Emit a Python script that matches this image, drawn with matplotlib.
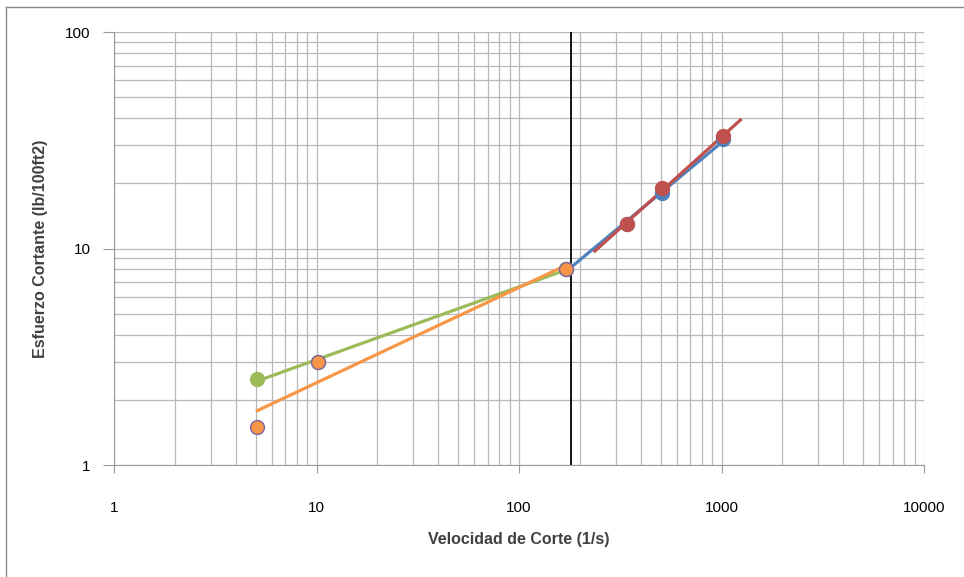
import numpy as np
import matplotlib
matplotlib.use("Agg")
import matplotlib.pyplot as plt
from matplotlib.ticker import LogLocator, NullFormatter, FixedLocator, FixedFormatter

# shear rate (1/s) vs shear stress (lb/100ft2)
blue_x = [170, 340, 510, 1020]
blue_y = [8, 13, 18, 32]
red_x = [340, 510, 1020]
red_y = [13, 19, 33]
green_x = [5.1, 10.2, 170]
green_y = [2.5, 3.0, 8]
orange_x = [5.1, 10.2, 170]
orange_y = [1.5, 3.0, 8]

# extent of each power trendline
blue_range = [170, 1020]
red_range = [237, 1240]
green_range = [5.1, 170]
orange_range = [5.1, 170]

cut_x = 180

x_ticks = [1, 10, 100, 1000, 10000]
x_labels = ["1", "10", "100", "1000", "10000"]
y_ticks = [1, 10, 100]
y_labels = ["1", "10", "100"]

BLUE = "#4F81BD"
RED = "#C0504D"
GREEN = "#9BBB59"
ORANGE = "#F79646"
PURPLE = "#8064A2"

plt.rcParams['font.family'] = ['Liberation Sans', 'DejaVu Sans']


def power_fit(xs, ys, rng):
    k, b = np.polyfit(np.log10(xs), np.log10(ys), 1)
    xx = np.logspace(np.log10(rng[0]), np.log10(rng[1]), 50)
    return xx, 10 ** (b + k * np.log10(xx))


fig = plt.figure(figsize=(9.64, 5.77), dpi=100)
ax = fig.add_axes([0.1183, 0.1941, 0.8402, 0.7504])
ax.set_xscale('log')
ax.set_yscale('log')
ax.set_xlim(1, 10000)
ax.set_ylim(1, 100)

ax.grid(True, which='both', color='#b8b8b8', linewidth=0.9)
ax.set_axisbelow(True)
for s in ax.spines.values():
    s.set_visible(False)
ax.spines['left'].set_visible(True)
ax.spines['bottom'].set_visible(True)
ax.spines['left'].set_color('#9a9a9a')
ax.spines['bottom'].set_color('#9a9a9a')

ax.xaxis.set_major_locator(FixedLocator(x_ticks))
ax.xaxis.set_major_formatter(FixedFormatter(x_labels))
ax.yaxis.set_major_locator(FixedLocator(y_ticks))
ax.yaxis.set_major_formatter(FixedFormatter(y_labels))
ax.xaxis.set_minor_locator(LogLocator(base=10, subs=np.arange(2, 10)))
ax.yaxis.set_minor_locator(LogLocator(base=10, subs=np.arange(2, 10)))
ax.xaxis.set_minor_formatter(NullFormatter())
ax.yaxis.set_minor_formatter(NullFormatter())
ax.tick_params(axis='both', which='minor', length=0)
ax.tick_params(axis='x', which='major', length=6, color='#9a9a9a', pad=20, labelsize=11)
ax.tick_params(axis='y', which='major', length=8, color='#9a9a9a', pad=9, labelsize=11)

ax.axvline(cut_x, color='black', linewidth=1.3, zorder=2)

lw = 2.3
xx, yy = power_fit(blue_x, blue_y, blue_range)
ax.plot(xx, yy, color=BLUE, linewidth=lw, zorder=3)
xx, yy = power_fit(red_x, red_y, red_range)
ax.plot(xx, yy, color=RED, linewidth=lw, zorder=4)
xx, yy = power_fit(green_x, green_y, green_range)
ax.plot(xx, yy, color=GREEN, linewidth=lw, zorder=3)
xx, yy = power_fit(orange_x, orange_y, orange_range)
ax.plot(xx, yy, color=ORANGE, linewidth=lw, zorder=3)

ms = 10
ax.plot(blue_x, blue_y, 'o', color=BLUE, markersize=ms, zorder=5)
ax.plot(red_x, red_y, 'o', color=RED, markersize=ms, zorder=6)
ax.plot(green_x, green_y, 'o', color=GREEN, markersize=ms, zorder=5)
ax.plot(orange_x, orange_y, 'o', color=ORANGE, markeredgecolor=PURPLE,
        markeredgewidth=1.0, markersize=ms, zorder=7)

ax.set_xlabel("Velocidad de Corte (1/s)", fontsize=11.5, fontweight='bold',
              color='#404040', labelpad=12)
ax.set_ylabel("Esfuerzo Cortante (lb/100ft2)", fontsize=11.5, fontweight='bold',
              color='#404040', labelpad=12)

# outer chart border
fig.add_artist(plt.Line2D([6 / 964, 6 / 964], [0, 1 - 7 / 577], color='#8a8a8a',
                          linewidth=1.0, transform=fig.transFigure))
fig.add_artist(plt.Line2D([6 / 964, 1], [1 - 7 / 577, 1 - 7 / 577], color='#8a8a8a',
                          linewidth=1.0, transform=fig.transFigure))

fig.savefig("out.png", dpi=100)
